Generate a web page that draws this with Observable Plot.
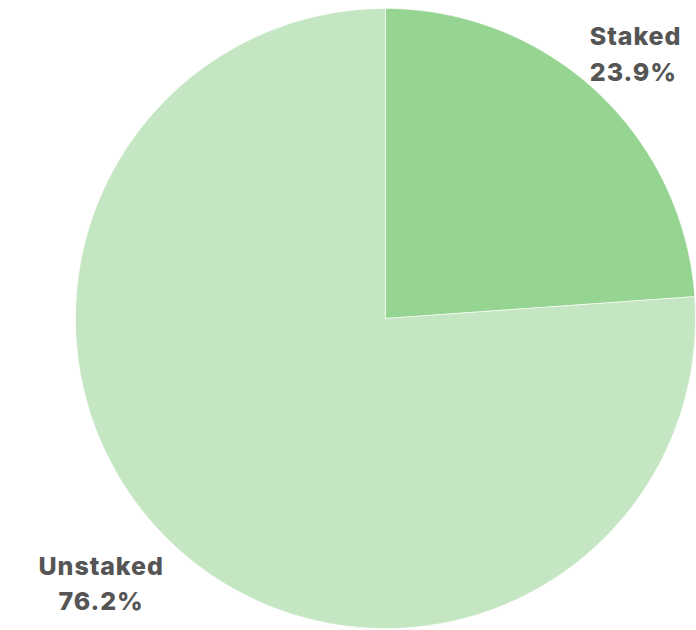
<!DOCTYPE html>
<html>
<head>
<meta charset="utf-8">
<script src="https://cdn.jsdelivr.net/npm/d3@7"></script>
<script src="https://cdn.jsdelivr.net/npm/@observablehq/plot@0.6"></script>
<style>
  html, body { margin: 0; padding: 0; background: #fff; }
  #chart svg { display: block; }
  #chart svg text { letter-spacing: 0.9px; }
</style>
</head>
<body>
<div id="chart"></div>
<script>
const categories = ["Staked", "Unstaked"];
const values = [23.9, 76.2];
const labels = ["Staked\n23.9%", "Unstaked\n76.2%"];
const colors = ["#96d491", "#c5e6c2"];

const total = d3.sum(values);
let acc = 0;
const slices = categories.map((c, i) => {
  const a0 = acc / total * 2 * Math.PI;
  acc += values[i];
  const a1 = acc / total * 2 * Math.PI;
  return {category: c, a0, a1, mid: (a0 + a1) / 2, label: labels[i]};
});

// polygon points (angle measured clockwise from 12 o'clock, unit radius)
const pts = [];
for (const s of slices) {
  pts.push({category: s.category, x: 0, y: 0});
  const n = Math.max(2, Math.ceil((s.a1 - s.a0) / (Math.PI / 720)));
  for (let k = 0; k <= n; k++) {
    const a = s.a0 + (s.a1 - s.a0) * k / n;
    pts.push({category: s.category, x: Math.sin(a), y: Math.cos(a)});
  }
  pts.push({category: s.category, x: 0, y: 0});
}

const lr = 1.18;
const lab = slices.map(s => ({category: s.category, label: s.label, x: lr * Math.sin(s.mid), y: lr * Math.cos(s.mid)}));

const R = 310;
const W = 696, H = 630, cx = 385, cy = 318;

const chart = Plot.plot({
  width: W,
  height: H,
  margin: 0,
  x: {domain: [-cx / R, (W - cx) / R], axis: null},
  y: {domain: [-(H - cy) / R, cy / R], axis: null},
  color: {domain: categories, range: colors},
  style: {background: "#fff"},
  marks: [
    Plot.line(pts, {x: "x", y: "y", z: "category", fill: "category", stroke: "#fff", strokeWidth: 0.6, curve: "linear"}),
    Plot.text(lab.filter(d => d.category === "Staked"), {
      x: "x", y: "y", text: "label", textAnchor: "start", dx: -45, dy: 1,
      fontSize: 25, fontWeight: 800, fill: "#555555", fontFamily: "Inter, sans-serif", lineHeight: 1.42
    }),
    Plot.text(lab.filter(d => d.category === "Unstaked"), {
      x: "x", y: "y", text: "label", textAnchor: "middle", dx: -35, dy: -5,
      fontSize: 25, fontWeight: 800, fill: "#555555", fontFamily: "Inter, sans-serif", lineHeight: 1.42
    })
  ]
});
document.getElementById("chart").appendChild(chart);
</script>
</body>
</html>
